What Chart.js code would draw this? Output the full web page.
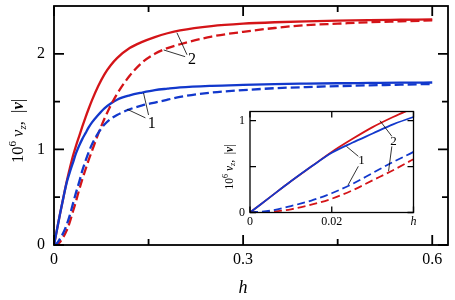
<!DOCTYPE html>
<html><head><meta charset="utf-8">
<script src="https://cdn.jsdelivr.net/npm/chart.js@4.4.1/dist/chart.umd.min.js"></script>
<style>
html,body{margin:0;padding:0;background:#fff;}
#wrap{position:relative;width:455px;height:300px;overflow:hidden;}
#main{position:absolute;left:0;top:0;}
#inset{position:absolute;left:205px;top:106px;}
</style></head><body>
<div id="wrap"><canvas id="main" width="455" height="300"></canvas><canvas id="inset" width="215" height="125"></canvas></div>
<script>
// ---- data ----
const h = [0,0.005,0.01,0.015,0.02,0.025,0.03,0.035,0.04,0.045,0.05,0.055,0.06,0.07,0.08,0.09,0.1,0.12,0.14,0.16,0.18,0.2,0.25,0.3,0.35,0.4,0.45,0.5,0.55,0.6];
const curve2Solid  = [0,0.17,0.34,0.5,0.66,0.8,0.93,1.04,1.14,1.24,1.335,1.425,1.51,1.66,1.785,1.88,1.955,2.06,2.125,2.175,2.215,2.245,2.29,2.315,2.33,2.34,2.347,2.352,2.356,2.36];
const curve2Dashed = [0,0.008,0.035,0.085,0.15,0.24,0.35,0.46,0.58,0.69,0.79,0.89,0.98,1.16,1.32,1.46,1.58,1.77,1.91,2.0,2.06,2.1,2.18,2.23,2.27,2.3,2.315,2.33,2.34,2.35];
const curve1Solid  = [0,0.17,0.34,0.5,0.65,0.76,0.86,0.96,1.04,1.11,1.17,1.23,1.28,1.36,1.43,1.48,1.52,1.565,1.595,1.62,1.635,1.648,1.665,1.675,1.683,1.688,1.692,1.695,1.698,1.7];
const curve1Dashed = [0,0.02,0.07,0.13,0.21,0.31,0.43,0.55,0.66,0.78,0.88,0.97,1.05,1.17,1.26,1.32,1.36,1.42,1.46,1.49,1.52,1.55,1.595,1.62,1.64,1.652,1.662,1.67,1.677,1.685];

const mainXTicks = [0, 0.3, 0.6];
const mainXMinor = [0.15, 0.45];
const mainYTicks = [0, 1, 2];
const mainYMinor = [0.5, 1.5];
const insetXTicks = [0, 0.02, 0.04];
const insetXTickLabels = ['0', '0.02', 'h'];
const insetYTicks = [0, 1];
const insetYMinor = [0.5];

// curve labels with leader lines, in data units
const mainNotes = [
  {text:'2', at:[0.219,1.94], lines:[[[0.211,1.99],[0.195,2.22]],[[0.208,1.97],[0.174,2.04]]]},
  {text:'1', at:[0.155,1.27], lines:[[[0.150,1.36],[0.142,1.59]],[[0.145,1.33],[0.116,1.42]]]}
];
const insetNotes = [
  {text:'2', at:[0.0351,0.777], lines:[[[0.0347,0.83],[0.0318,1.0]],[[0.0347,0.72],[0.0339,0.45]]]},
  {text:'1', at:[0.0273,0.569], lines:[[[0.0265,0.612],[0.0236,0.72]],[[0.0265,0.503],[0.024,0.30]]]}
];

const RED = '#d41418', BLUE = '#1238cc';
const SERIF = "'Liberation Serif', 'DejaVu Serif', serif";
const pts = arr => h.map((x,i)=>({x:x, y:arr[i]}));

function datasets(lw, dash){
  return [
    {data:pts(curve1Dashed), borderColor:BLUE, borderDash:dash},
    {data:pts(curve2Dashed), borderColor:RED, borderDash:dash},
    {data:pts(curve1Solid), borderColor:BLUE},
    {data:pts(curve2Solid), borderColor:RED}
  ].map(d=>Object.assign(d,{borderWidth:lw, pointRadius:0, fill:false, cubicInterpolationMode:'monotone', clip:0}));
}

function zeroPad(s){ s.paddingTop=0; s.paddingBottom=0; s.paddingLeft=0; s.paddingRight=0; }

function frameTicks(o){
  return {id:'frameTicks', afterDatasetsDraw(chart){
    const c=chart.ctx, a=chart.chartArea, xs=chart.scales.x, ys=chart.scales.y;
    c.save(); c.strokeStyle='#000'; c.lineWidth=o.lw; c.lineCap='butt';
    c.strokeRect(a.left,a.top,a.right-a.left,a.bottom-a.top);
    const tick=(vals,len)=>{
      vals.forEach(v=>{const p=xs.getPixelForValue(v); c.beginPath(); c.moveTo(p,a.bottom); c.lineTo(p,a.bottom-len); c.moveTo(p,a.top); c.lineTo(p,a.top+len); c.stroke();});
    };
    const ytick=(vals,len)=>{
      vals.forEach(v=>{const p=ys.getPixelForValue(v); c.beginPath(); c.moveTo(a.left,p); c.lineTo(a.left+len,p); c.moveTo(a.right,p); c.lineTo(a.right-len,p); c.stroke();});
    };
    tick(o.xMajor,o.major); tick(o.xMinor,o.minor); ytick(o.yMajor,o.major); ytick(o.yMinor,o.minor);
    c.restore();
  }};
}

function notes(list, fontSize){
  return {id:'notes', afterDatasetsDraw(chart){
    const c=chart.ctx, xs=chart.scales.x, ys=chart.scales.y;
    c.save(); c.strokeStyle='#000'; c.lineWidth=0.8;
    list.forEach(n=>{
      n.lines.forEach(l=>{c.beginPath(); c.moveTo(xs.getPixelForValue(l[0][0]),ys.getPixelForValue(l[0][1])); c.lineTo(xs.getPixelForValue(l[1][0]),ys.getPixelForValue(l[1][1])); c.stroke();});
      c.fillStyle='#000'; c.font=fontSize+'px '+SERIF; c.textAlign='center'; c.textBaseline='middle';
      c.fillText(n.text, xs.getPixelForValue(n.at[0]), ys.getPixelForValue(n.at[1]));
    });
    c.restore();
  }};
}

function drawRich(c, parts, x, y, angle){
  c.save(); c.translate(x,y); c.rotate(angle); c.fillStyle='#000'; c.textBaseline='alphabetic'; c.textAlign='left';
  let total=0; parts.forEach(p=>{c.font=p.f; p.w=c.measureText(p.t).width; total+=p.w;});
  let cx=-total/2;
  parts.forEach(p=>{c.font=p.f; c.fillText(p.t,cx,p.dy||0); cx+=p.w;});
  c.restore();
}
function yTitleParts(s){
  const sm=Math.round(s*0.68);
  return [
    {t:'10', f:s+'px '+SERIF},
    {t:'6', f:sm+'px '+SERIF, dy:-s*0.42},
    {t:' ', f:s+'px '+SERIF},
    {t:'v', f:'italic '+s+'px '+SERIF},
    {t:'z', f:'italic '+sm+'px '+SERIF, dy:s*0.2},
    {t:',  ', f:s+'px '+SERIF},
    {t:'|', f:s+'px '+SERIF},
    {t:'v', f:'bold italic '+s+'px '+SERIF},
    {t:'|', f:s+'px '+SERIF}
  ];
}
function titles(o){
  return {id:'titles', afterDraw(chart){
    const c=chart.ctx, a=chart.chartArea;
    drawRich(c, yTitleParts(o.ySize), a.left+o.yDx, (a.top+a.bottom)/2+o.yDy, -Math.PI/2);
    if(o.xTitle){
      c.save(); c.fillStyle='#000'; c.font='italic '+o.xSize+'px '+SERIF; c.textAlign='center'; c.textBaseline='middle';
      c.fillText(o.xTitle, chart.scales.x.getPixelForValue(o.xAt), a.bottom+o.xDy); c.restore();
    }
  }};
}

const noGrid = {display:false, drawTicks:false, tickLength:0};

// ---- main chart ----
new Chart(document.getElementById('main'), {
  type:'line',
  data:{datasets:datasets(2.3,[9,4])},
  options:{
    responsive:false, animation:false, events:[],
    layout:{padding:{top:6,right:7,left:0,bottom:0}},
    plugins:{legend:{display:false}, tooltip:{enabled:false}},
    scales:{
      x:{type:'linear', min:0, max:0.625,
         afterBuildTicks:s=>{s.ticks=mainXTicks.map(v=>({value:v}));},
         afterFit:s=>{s.height=55; zeroPad(s);},
         grid:noGrid, border:{display:false},
         ticks:{autoSkip:false, maxRotation:0, padding:5, color:'#000', font:{family:SERIF,size:16}, callback:v=>String(v)}},
      y:{type:'linear', min:0, max:2.5,
         afterBuildTicks:s=>{s.ticks=mainYTicks.map(v=>({value:v}));},
         afterFit:s=>{s.width=54; zeroPad(s);},
         grid:noGrid, border:{display:false},
         ticks:{autoSkip:false, padding:9, color:'#000', font:{family:SERIF,size:16}, callback:v=>String(v)}}
    }
  },
  plugins:[
    frameTicks({lw:1.8, major:10, minor:6, xMajor:mainXTicks, xMinor:mainXMinor, yMajor:mainYTicks, yMinor:mainYMinor}),
    notes(mainNotes,16),
    titles({ySize:16.5, yDx:-31, yDy:5.5, xTitle:'h', xSize:18, xAt:0.3, xDy:43})
  ]
});

// ---- inset chart ----
new Chart(document.getElementById('inset'), {
  type:'line',
  data:{datasets:datasets(1.8,[8,4])},
  options:{
    responsive:false, animation:false, events:[],
    layout:{padding:{top:5.5,right:6.5,left:0,bottom:0}},
    plugins:{legend:{display:false}, tooltip:{enabled:false}},
    scales:{
      x:{type:'linear', min:0, max:0.04,
         afterBuildTicks:s=>{s.ticks=insetXTicks.map(v=>({value:v}));},
         afterFit:s=>{s.height=18.5; zeroPad(s);},
         grid:noGrid, border:{display:false},
         ticks:{autoSkip:false, maxRotation:0, padding:2, color:'#000',
                font:ctx=>({family:SERIF, size:12, style: (ctx.index===2?'italic':'normal')}),
                callback:(v,i)=>insetXTickLabels[i]}},
      y:{type:'linear', min:0, max:1.1,
         afterBuildTicks:s=>{s.ticks=insetYTicks.map(v=>({value:v}));},
         afterFit:s=>{s.width=45; zeroPad(s);},
         grid:noGrid, border:{display:false},
         ticks:{autoSkip:false, padding:5, color:'#000', font:{family:SERIF,size:12}, callback:v=>String(v)}}
    }
  },
  plugins:[
    {id:'bg', beforeDraw(chart){const c=chart.ctx,a=chart.chartArea; c.save(); c.fillStyle='#fff'; c.fillRect(a.left,a.top,a.right-a.left,a.bottom-a.top); c.restore();}},
    frameTicks({lw:1.3, major:6, minor:6, xMajor:insetXTicks, xMinor:[], yMajor:insetYTicks, yMinor:insetYMinor}),
    notes(insetNotes,13),
    titles({ySize:11.5, yDx:-17, yDy:5})
  ]
});
</script>
</body></html>
